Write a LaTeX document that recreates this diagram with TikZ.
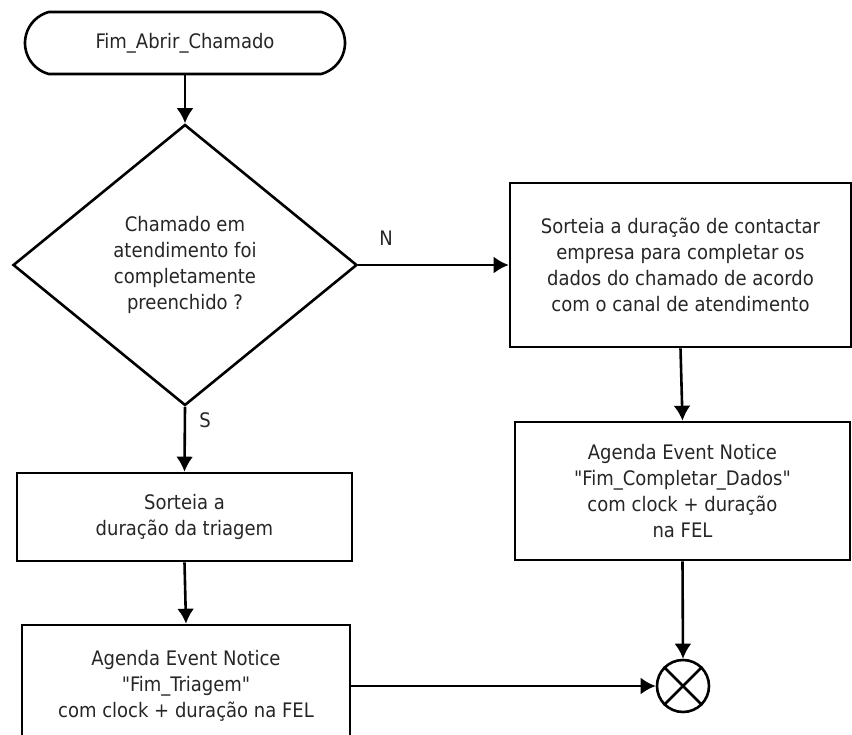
\documentclass[tikz,border=0pt]{standalone}
\usepackage{fontspec}
\setmainfont{DejaVu Sans Condensed}
\usetikzlibrary{shapes.geometric,shapes.misc,arrows.meta}
\begin{document}
\begin{tikzpicture}[x=1pt,y=-1pt,
  every node/.style={text=black!85, font=\fontsize{20}{26}\selectfont},
  shape outline/.style={draw=black, line width=2.6pt, inner sep=0pt, align=center},
  procbox/.style={shape outline, rectangle},
  conn/.style={draw=black, line width=2.6pt, -{Latex[length=15pt,width=17pt]}},
  branch/.style={inner sep=0pt}
]
\useasboundingbox (0,0) rectangle (852,735);
\clip (0,0) rectangle (852,735);

% start terminal and decision
\node[shape outline, rounded rectangle, rounded rectangle arc length=150, minimum width=320pt, minimum height=62pt] (start) at (185,43) {Fim\_Abrir\_Chamado};
\node[shape outline, diamond, aspect=1.22, minimum width=344pt, minimum height=281pt] (dec) at (185,265)
  {Chamado em\\atendimento foi\\completamente\\preenchido ?};

% "N" branch
\node[procbox, minimum width=341pt, minimum height=164pt] (sortB) at (680.5,265)
  {Sorteia a duração de contactar\\empresa para completar os\\dados do chamado de acordo\\com o canal de atendimento};
\node[procbox, minimum width=335pt, minimum height=138pt] (agB) at (682.5,491)
  {Agenda Event Notice\\\textquotedbl Fim\_Completar\_Dados\textquotedbl\\com clock + duração\\na FEL};

% "S" branch
\node[procbox, minimum width=335pt, minimum height=88pt] (sortA) at (184.5,517)
  {Sorteia a\\duração da triagem};
\node[procbox, minimum width=328pt, minimum height=122pt] (agA) at (186,686)
  {Agenda Event Notice\\\textquotedbl Fim\_Triagem\textquotedbl\\com clock + duração na FEL};

% junction
\node[draw=black, line width=2.6pt, circle, minimum size=52pt, inner sep=0pt] (join) at (683,686) {};
\draw[line width=2.6pt] (join.45) -- (join.225) (join.135) -- (join.315);

% connectors
\draw[conn] (start.south) -- (dec.north);
\draw[conn] (dec.east) -- (sortB.west);
\draw[conn] (dec.south) -- (sortA.north);
\draw[conn] (sortA.south) -- (agA.north);
\draw[conn] (sortB.south) -- (agB.north);
\draw[conn] (agB.south) -- (join.north);
\draw[conn] (agA.east) -- (join.west);

% branch labels
\node[branch] (lblN) at (386,238) {N};
\node[branch] (lblS) at (205,420) {S};
\end{tikzpicture}
\end{document}
